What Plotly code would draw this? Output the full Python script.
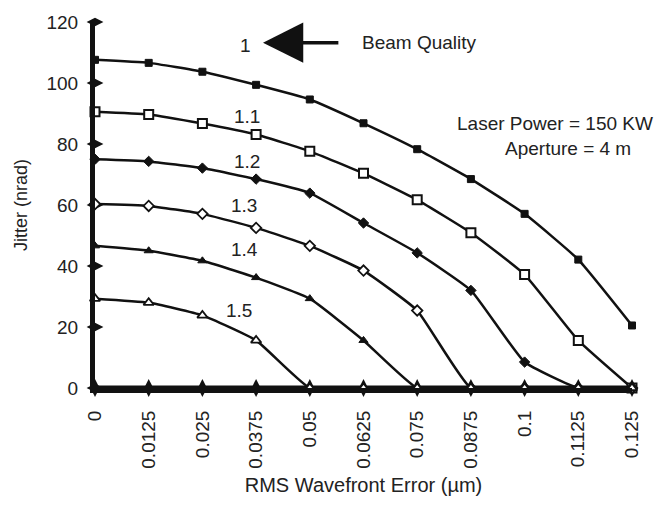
import plotly.graph_objects as go

# ---- data ----
wavefront_error = [0, 0.0125, 0.025, 0.0375, 0.05, 0.0625, 0.075, 0.0875, 0.1, 0.1125, 0.125]
x_tick_labels = ["0", "0.0125", "0.025", "0.0375", "0.05", "0.0625", "0.075", "0.0875", "0.1", "0.1125", "0.125"]
y_tick_values = [0, 20, 40, 60, 80, 100, 120]

jitter_bq_1_0 = [107.6, 106.6, 103.7, 99.4, 94.6, 86.8, 78.3, 68.5, 57.1, 42.1, 20.5]
jitter_bq_1_1 = [90.6, 89.7, 86.7, 83.1, 77.6, 70.4, 61.7, 50.9, 37.2, 15.6, 0]
jitter_bq_1_2 = [75.0, 74.3, 72.1, 68.5, 63.9, 54.1, 44.3, 32.0, 8.5, 0, 0]
jitter_bq_1_3 = [60.3, 59.7, 57.1, 52.5, 46.6, 38.5, 25.4, 0, 0, 0, 0]
jitter_bq_1_4 = [46.6, 45.0, 41.7, 36.2, 29.3, 15.6, 0, 0, 0, 0, 0]
jitter_bq_1_5 = [29.3, 28.0, 23.8, 15.6, 0, 0, 0, 0, 0, 0, 0]

series_names = ["1", "1.1", "1.2", "1.3", "1.4", "1.5"]
series_values = [jitter_bq_1_0, jitter_bq_1_1, jitter_bq_1_2, jitter_bq_1_3, jitter_bq_1_4, jitter_bq_1_5]

FONT = "Liberation Sans, Arial, Helvetica, sans-serif"
INK = "#111111"

marker_styles = [
    dict(symbol="square", size=7, color=INK, line=dict(color=INK, width=1)),
    dict(symbol="square", size=9, color="white", line=dict(color=INK, width=2)),
    dict(symbol="diamond", size=8, color=INK, line=dict(color=INK, width=1)),
    dict(symbol="diamond", size=8, color="white", line=dict(color=INK, width=1.8)),
    dict(symbol="triangle-up", size=8, color=INK, line=dict(color=INK, width=1)),
    dict(symbol="triangle-up", size=9, color="white", line=dict(color=INK, width=1.8)),
]

fig = go.Figure()

# axis decoration marks (at tick positions)
fig.add_trace(go.Scatter(
    x=[0] * len(y_tick_values), y=y_tick_values, mode="markers",
    marker=dict(symbol="diamond-wide", size=12, color=INK),
    cliponaxis=False, showlegend=False, hoverinfo="skip"))
fig.add_trace(go.Scatter(
    x=wavefront_error, y=[0] * len(wavefront_error), mode="lines+markers",
    line=dict(color=INK, width=5),
    marker=dict(symbol="diamond-tall", size=13, color=INK),
    cliponaxis=False, showlegend=False, hoverinfo="skip"))

for name, vals, ms in zip(series_names, series_values, marker_styles):
    fig.add_trace(go.Scatter(
        x=wavefront_error, y=vals, mode="lines+markers", name=name,
        line=dict(color=INK, width=2.5, shape="spline", smoothing=0.4),
        marker=ms, cliponaxis=False, showlegend=False))

annotations = [
    dict(x=0.0351, y=112.2, text="1"),
    dict(x=0.0354, y=89.0, text="1.1"),
    dict(x=0.0354, y=74.3, text="1.2"),
    dict(x=0.0347, y=60.0, text="1.3"),
    dict(x=0.0347, y=45.3, text="1.4"),
    dict(x=0.0335, y=25.4, text="1.5"),
    dict(x=0.0617, y=113.4, text="Beam Quality", xanchor="left"),
    dict(x=0.1071, y=86.7, text="Laser Power = 150 KW"),
    dict(x=0.1101, y=78.6, text="Aperture = 4 m"),
]
for a in annotations:
    fig.add_annotation(xref="x", yref="y", showarrow=False,
                       font=dict(family=FONT, size=19, color="#222222"),
                       **a)

fig.add_annotation(xref="x", yref="y", x=0.0391, y=113.2, axref="x", ayref="y",
                   ax=0.0570, ay=113.2, text="", showarrow=True,
                   arrowhead=2, arrowsize=2.3, arrowwidth=3.5, arrowcolor=INK)

fig.update_layout(
    width=667, height=508,
    margin=dict(l=95, r=35, t=20, b=120),
    paper_bgcolor="white", plot_bgcolor="white",
    font=dict(family=FONT, color="#222222"),
    showlegend=False,
)
fig.update_xaxes(
    range=[0, 0.125], tickvals=wavefront_error, ticktext=x_tick_labels,
    tickangle=-90, tickfont=dict(size=19), ticks="", ticklabelstandoff=10,
    showgrid=False, zeroline=False, showline=True, linewidth=5, linecolor=INK,
    title=dict(text="RMS Wavefront Error (µm)", font=dict(size=20), standoff=12),
)
fig.update_yaxes(
    range=[0, 120], tickvals=y_tick_values, tickfont=dict(size=19), ticks="",
    ticklabelstandoff=8,
    showgrid=False, zeroline=False, showline=True, linewidth=5, linecolor=INK,
    title=dict(text="Jitter (nrad)", font=dict(size=18), standoff=16),
)

fig.write_html("out.html")
